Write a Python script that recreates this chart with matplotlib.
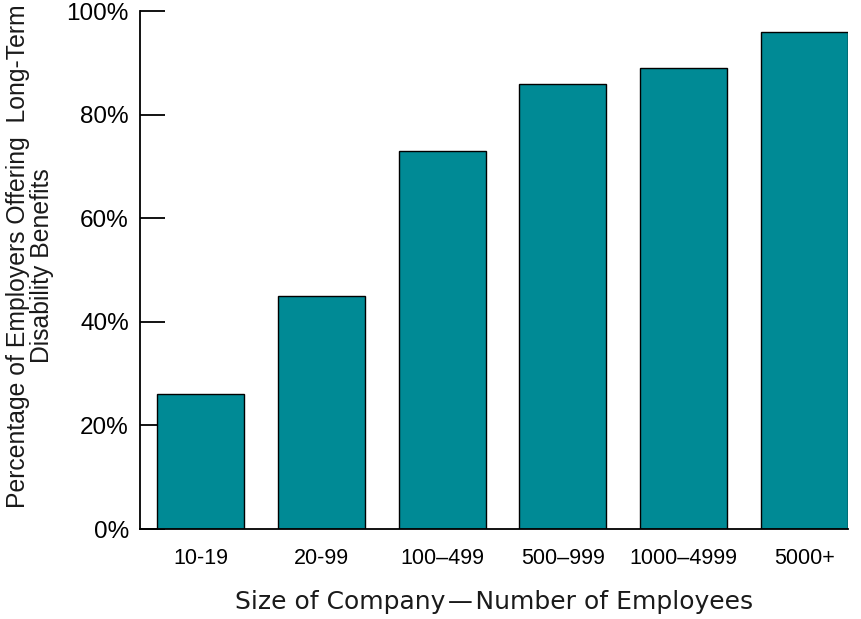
import matplotlib
matplotlib.use("Agg")
import matplotlib.pyplot as plt
from matplotlib.ticker import FuncFormatter

plt.rcParams['font.family'] = ['Liberation Sans', 'DejaVu Sans']

categories = ["10-19", "20-99", "100\u2013499", "500\u2013999", "1000\u20134999", "5000+"]
percent_offering = [26, 45, 73, 86, 89, 96]
y_ticks = [0, 20, 40, 60, 80, 100]

bar_color = "#008a95"
text_color = "#1a1a1a"

fig = plt.figure(figsize=(8.61, 6.19), dpi=100)
ax = fig.add_axes([140 / 861, 1 - 529 / 619, 708 / 861, 518 / 619])

x = range(len(categories))
ax.bar(x, percent_offering, width=0.72, color=bar_color,
       edgecolor="black", linewidth=1.0, zorder=2)

ax.set_xlim(-0.5, 5.36)
ax.set_ylim(0, 100)
ax.set_yticks(y_ticks)
ax.yaxis.set_major_formatter(FuncFormatter(lambda v, _: f"{v:.0f}%"))
ax.set_xticks(list(x))
ax.set_xticklabels(categories)

for side in ("top", "right"):
    ax.spines[side].set_visible(False)
for side in ("left", "bottom"):
    ax.spines[side].set_linewidth(1.3)
    ax.spines[side].set_color("black")

ax.tick_params(axis="y", direction="in", length=18, width=1.3,
               labelsize=17.5, pad=8)
ax.tick_params(axis="x", length=0, labelsize=15.5, pad=14)

ax.set_xlabel("Size of Company\u200a\u2014\u200aNumber of Employees", fontsize=18,
              labelpad=15, color=text_color, family=["DejaVu Sans"])

# Two-line y-axis title, each line placed on its own
fig.text(18 / 861, 1 - 256 / 619, "Percentage of Employers Offering  Long-Term",
         rotation=90, ha="center", va="center", fontsize=17.8, color=text_color)
fig.text(42 / 861, 1 - 266 / 619, "Disability Benefits",
         rotation=90, ha="center", va="center", fontsize=17.8, color=text_color)

fig.savefig("out.png", dpi=100)
